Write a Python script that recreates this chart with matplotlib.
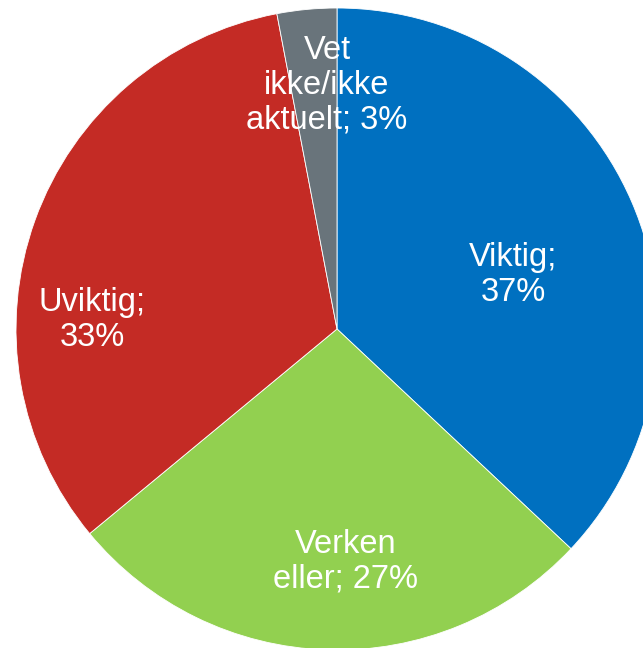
import matplotlib.pyplot as plt

labels = ["Viktig;\n37%", "Verken\neller; 27%", "Uviktig;\n33%", "Vet\nikke/ikke\naktuelt; 3%"]
values = [37, 27, 33, 3]
colors = ["#0070C0", "#92D050", "#C42B25", "#69747B"]

# label centres, tuned by hand to the reference
label_pos = [(0.548, 0.168), (0.028, -0.726), (-0.763, 0.028), (-0.031, 0.760)]

plt.rcParams['font.family'] = ['Liberation Sans', 'DejaVu Sans']

fig = plt.figure(figsize=(6.43, 6.48), dpi=100)
ax = fig.add_axes([0, 0, 1, 1])
wedges, texts = ax.pie(values, labels=labels, colors=colors, startangle=90,
                       counterclock=False, radius=1.0,
                       wedgeprops=dict(edgecolor="white", linewidth=0.6),
                       textprops=dict(color="white", fontsize=23.5, ha="center",
                                      va="center", linespacing=1.15))
for t, p in zip(texts, label_pos):
    t.set_position(p)
    t.set_horizontalalignment("center")
    t.set_verticalalignment("center")

ax.set_xlim(-337 / 321, (643 - 337) / 321)
ax.set_ylim(-(648 - 329) / 321, 329 / 321)
ax.set_aspect("equal")
ax.axis("off")
fig.savefig("out.png", dpi=100)
